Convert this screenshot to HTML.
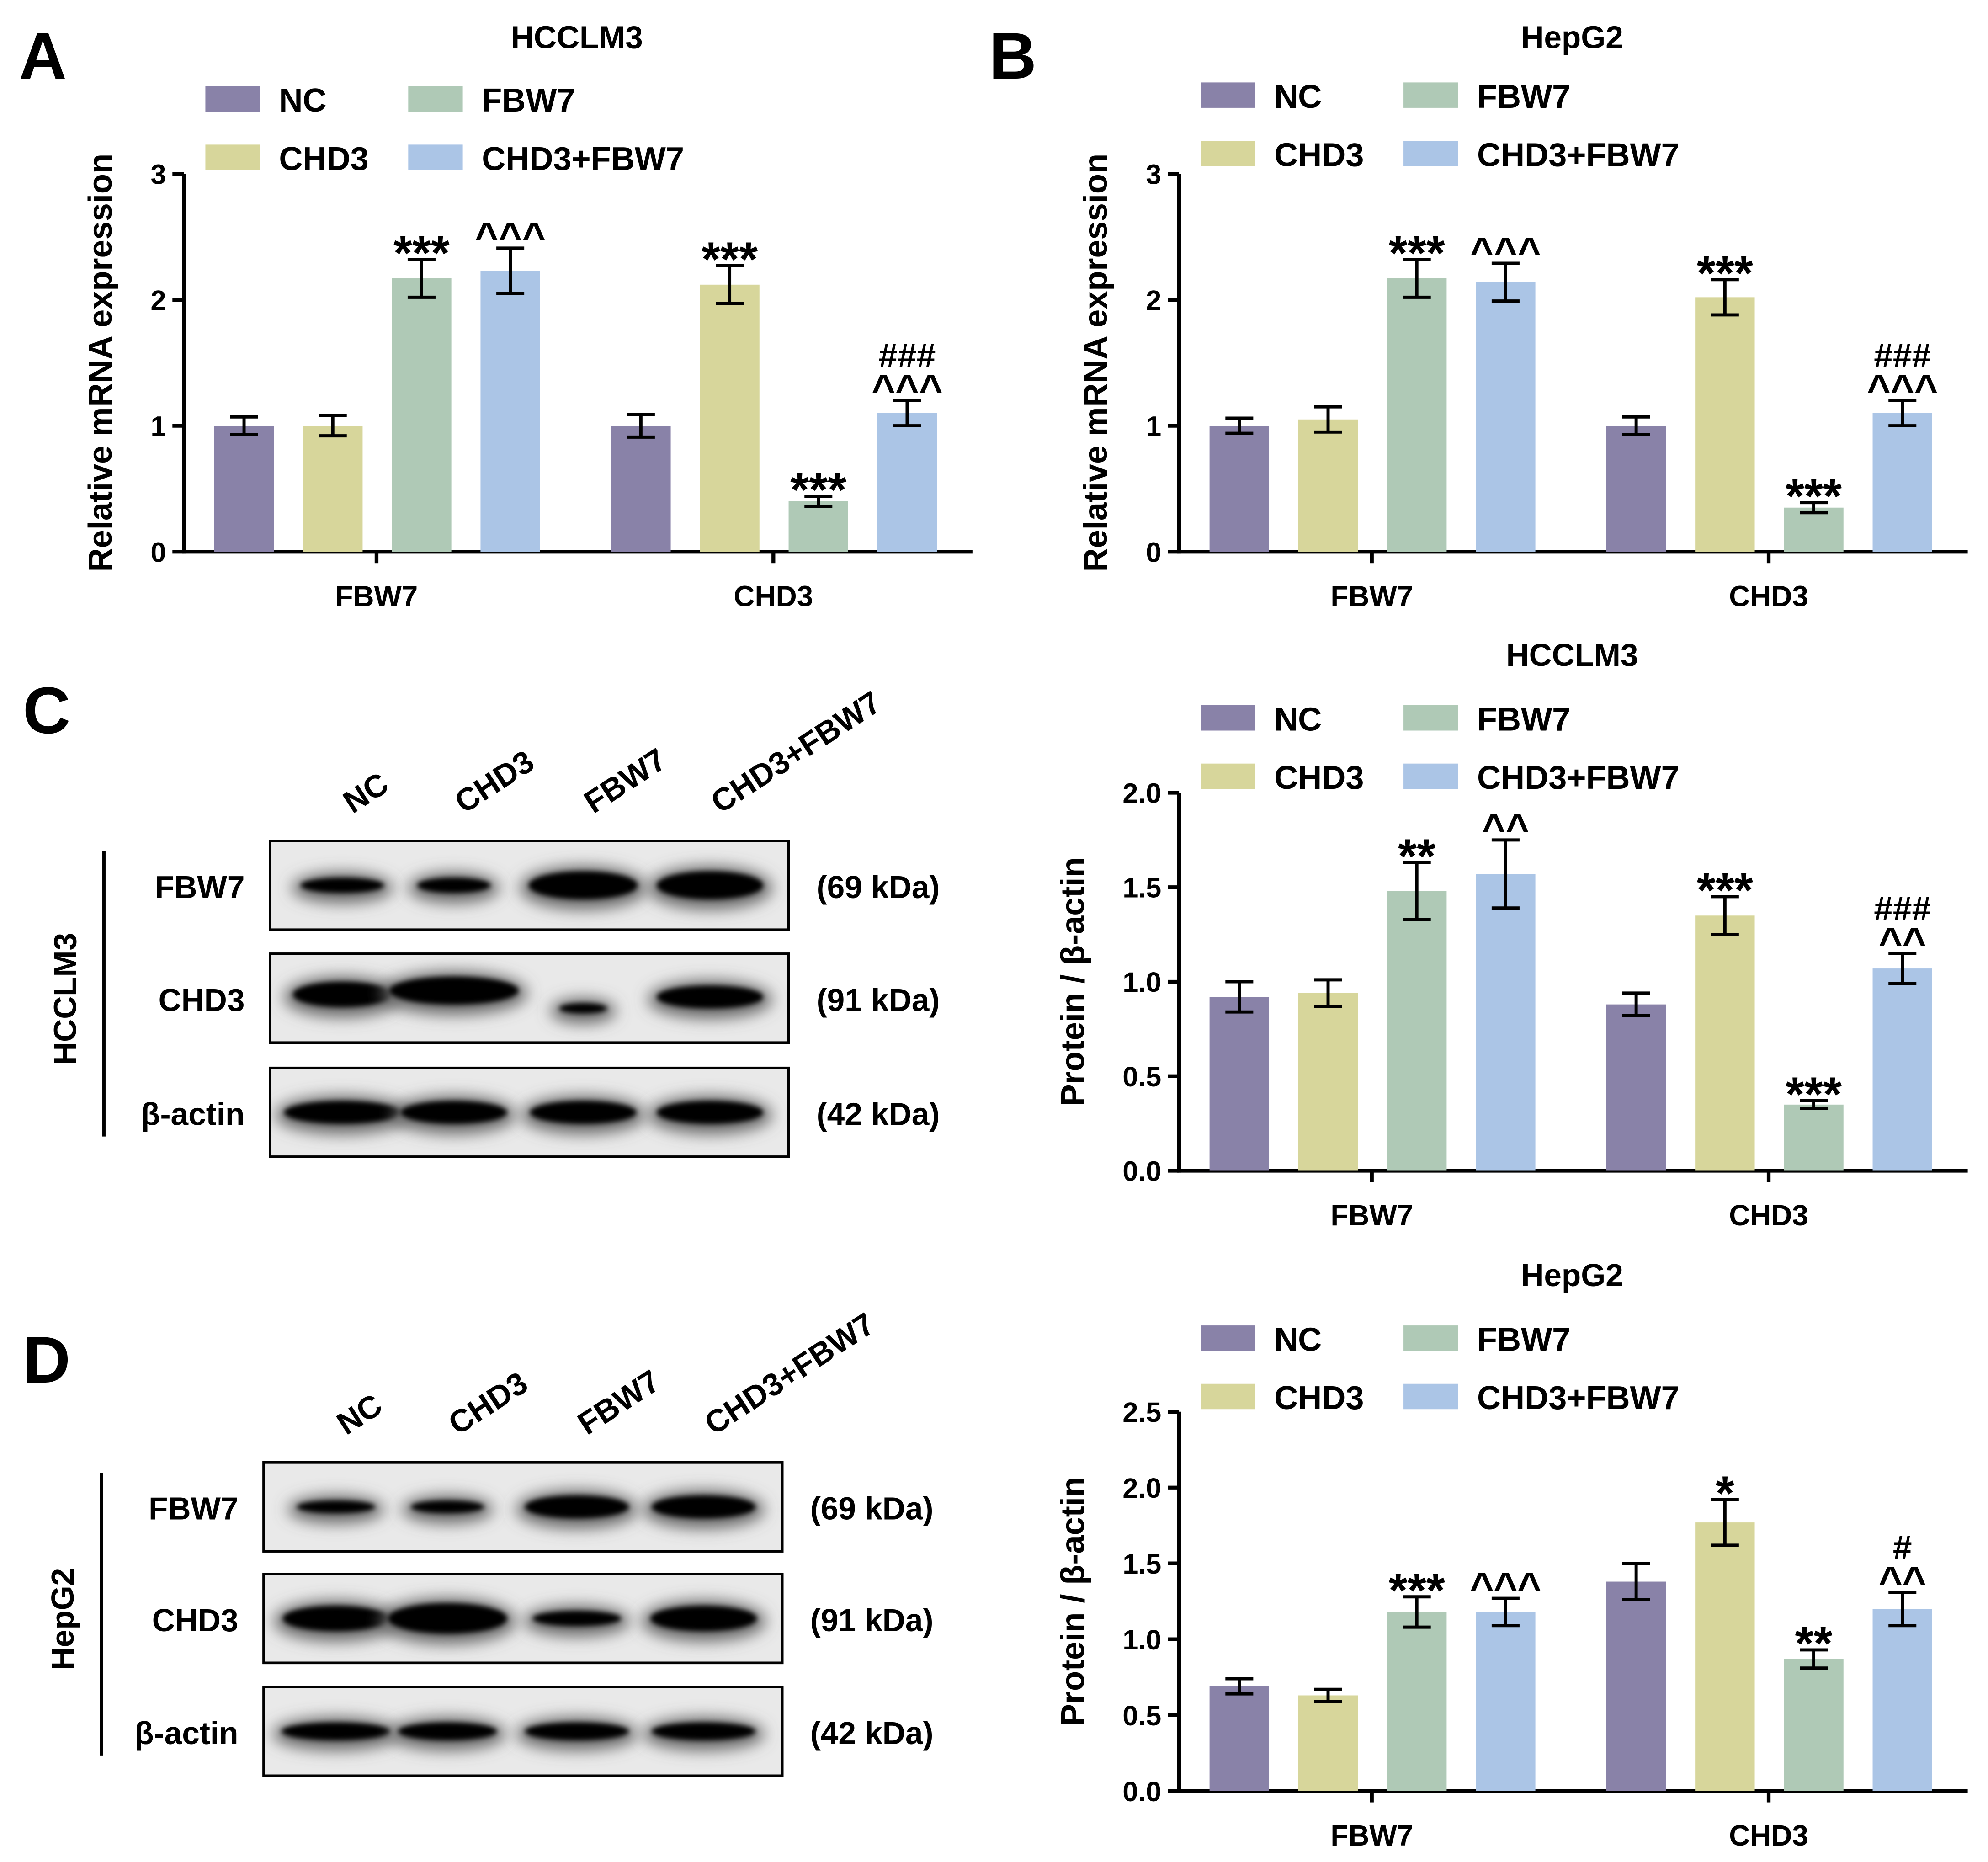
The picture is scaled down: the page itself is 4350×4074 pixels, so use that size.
<!DOCTYPE html>
<html><head><meta charset="utf-8"><style>html,body{margin:0;padding:0;background:#fff}svg{display:block}</style></head>
<body>
<svg id="s" xmlns="http://www.w3.org/2000/svg" width="4350" height="4074" viewBox="0 0 1568 1468" preserveAspectRatio="none" font-family="Liberation Sans, Arial, sans-serif" font-weight="bold">
<defs><filter id="bl" x="-40%" y="-150%" width="180%" height="400%"><feGaussianBlur stdDeviation="6"/></filter>
<filter id="bl2" x="-30%" y="-100%" width="160%" height="300%"><feGaussianBlur stdDeviation="2"/></filter></defs>
<rect width="1568" height="1468" fill="#fff"/>
</svg>
<script>
var s=document.getElementById('s'),h='';
var C=['#8982a8','#d7d69b','#afc9b6','#abc5e6'];
function T(x,y,t,sz,a,extra){return '<text x="'+x+'" y="'+y+'" font-size="'+sz+'" text-anchor="'+(a||'middle')+'" '+(extra||'')+'>'+t+'</text>';}
function chart(ox,y0,yTop,maxV,ticks,vals,errs,ann,title,titleY,legY,ylab,tickFmt,ylx){
  var k=(y0-yTop)/maxV;
  h+=T(ox+310,titleY,title,25);
  var lx=ox+17;
  var L=[[lx,legY,0,'NC'],[lx,legY+46,1,'CHD3'],[lx+160,legY,2,'FBW7'],[lx+160,legY+46,3,'CHD3+FBW7']];
  L.forEach(function(l){h+='<rect x="'+l[0]+'" y="'+(l[1]-10)+'" width="43" height="20" fill="'+C[l[2]]+'"/>'+T(l[0]+58,l[1]+10,l[3],26,'start');});
  h+='<line x1="'+ox+'" y1="'+yTop+'" x2="'+ox+'" y2="'+(y0+1.5)+'" stroke="#000" stroke-width="3"/>';
  h+='<line x1="'+(ox-1.5)+'" y1="'+y0+'" x2="'+(ox+622)+'" y2="'+y0+'" stroke="#000" stroke-width="3"/>';
  ticks.forEach(function(t){var y=y0-t*k;h+='<line x1="'+(ox-9)+'" y1="'+y+'" x2="'+ox+'" y2="'+y+'" stroke="#000" stroke-width="3"/>'+T(ox-14,y+8,tickFmt(t),22,'end');});
  [152,465].forEach(function(c,i){h+='<line x1="'+(ox+c)+'" y1="'+y0+'" x2="'+(ox+c)+'" y2="'+(y0+9)+'" stroke="#000" stroke-width="3"/>'+T(ox+c,y0+43,i?'CHD3':'FBW7',23);});
  h+=T(0,0,ylab,26,'middle','transform="translate('+(ox-ylx)+','+((y0+yTop)/2)+') rotate(-90)"');
  var xs=[24,94,164,234,337,407,477,547];
  vals.forEach(function(v,i){var x=ox+xs[i],y=y0-v*k,e=errs[i]*k,cx=x+23.5;
    h+='<rect x="'+x+'" y="'+y+'" width="47" height="'+(y0-y)+'" fill="'+C[i%4]+'"/>';
    h+='<path d="M'+cx+' '+(y-e)+'V'+(y+e)+'M'+(cx-11)+' '+(y-e)+'H'+(cx+11)+'M'+(cx-11)+' '+(y+e)+'H'+(cx+11)+'" stroke="#000" stroke-width="2.5" fill="none"/>';
    if(ann[i]){var a=ann[i].split('|');var top=y-e;var yy=top;
      for(var j=a.length-1;j>=0;j--){var st=a[j];
        if(st.indexOf('*')>=0){h+=T(cx,yy+8,st,38);yy-=26;}
        else if(st.indexOf('^')>=0){h+=T(cx,yy+2,st,32);yy-=24;}
        else {h+=T(cx,yy-2,st,27);yy-=26;}
      }
    }
  });
}
function f0(t){return ''+t;} function f1(t){return t.toFixed(1);}
h+=T(15,62,'A',52,'start')+T(780,62,'B',52,'start')+T(18,578,'C',52,'start')+T(18,1090,'D',52,'start');
chart(145,435,137,3,[0,1,2,3],[1,1,2.17,2.23,1,2.12,0.4,1.1],[.07,.08,.15,.18,.09,.15,.04,.1],['','','***','^^^','','***','***','###|^^^'],'HCCLM3',38,78,'Relative mRNA expression',f0,57);
chart(930,435,137,3,[0,1,2,3],[1,1.05,2.17,2.14,1,2.02,0.35,1.1],[.06,.1,.15,.15,.07,.14,.04,.1],['','','***','^^^','','***','***','###|^^^'],'HepG2',38,75,'Relative mRNA expression',f0,57);
chart(930,923,625,2,[0,.5,1,1.5,2],[.92,.94,1.48,1.57,.88,1.35,.35,1.07],[.08,.07,.15,.18,.06,.1,.02,.08],['','','**','^^','','***','***','###|^^'],'HCCLM3',525,566,'Protein / β-actin',f1,75);
chart(930,1412,1113,2.5,[0,.5,1,1.5,2,2.5],[.69,.63,1.18,1.18,1.38,1.77,.87,1.2],[.05,.04,.1,.09,.12,.15,.06,.11],['','','***','^^^','','*','**','#|^^'],'HepG2',1014,1055,'Protein / β-actin',f1,75);
function blot(x0,ys,cell,vlx,labY,bands){
  var W=409,H=70;
  ys.forEach(function(y,r){
    h+='<rect x="'+x0+'" y="'+y+'" width="'+W+'" height="'+H+'" fill="#e9e9e9" stroke="#000" stroke-width="2"/>';
    h+='<svg x="'+x0+'" y="'+y+'" width="'+W+'" height="'+H+'" overflow="hidden">';
    bands[r].forEach(function(b,i){var cx=[57,145,247,347][i];var cy=35+(b[2]||0);
      h+='<ellipse cx="'+cx+'" cy="'+(cy+2)+'" rx="'+(b[0]+4)+'" ry="'+(b[1]+6)+'" fill="#666" filter="url(#bl)"/>';
      h+='<ellipse cx="'+cx+'" cy="'+cy+'" rx="'+(b[0]-3)+'" ry="'+b[1]+'" fill="#000" filter="url(#bl2)"/>';});
    h+='</svg>';
    h+='<rect x="'+x0+'" y="'+y+'" width="'+W+'" height="'+H+'" fill="none" stroke="#000" stroke-width="2"/>';
    h+=T(x0-20,y+45,['FBW7','CHD3','β-actin'][r],25,'end')+T(x0+W+22,y+45,['(69 kDa)','(91 kDa)','(42 kDa)'][r],25,'start');
  });
  h+='<line x1="'+vlx+'" y1="'+(ys[0]+8)+'" x2="'+vlx+'" y2="'+(ys[2]+H-16)+'" stroke="#000" stroke-width="2.5"/>';
  h+=T(0,0,cell,25,'middle','transform="translate('+(vlx-22)+','+((ys[0]+ys[2]+H)/2)+') rotate(-90)"');
  ['NC','CHD3','FBW7','CHD3+FBW7'].forEach(function(t,i){var cx=x0+[57,145,247,347][i]+8;
    h+=T(cx,labY,t,25,'start','transform="rotate(-33 '+cx+' '+labY+')"');});
}
blot(213,[663,752,842],'HCCLM3',82,642,[[[36,6],[32,6],[46,11],[45,11]],[[42,10,-3],[54,11,-6],[22,4,8],[45,9,-1]],[[49,9],[45,9],[45,9],[45,9]]]);
blot(208,[1153,1241,1330],'HepG2',80,1132,[[[34,5],[32,5],[44,9],[44,9]],[[45,10],[50,12],[38,6],[45,10]],[[46,7],[42,7],[44,7],[44,7]]]);
s.insertAdjacentHTML('beforeend',h);
</script>
</body></html>
